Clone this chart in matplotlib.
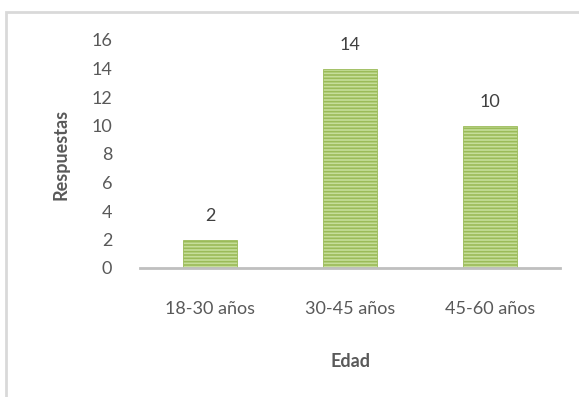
import numpy as np
import matplotlib.pyplot as plt
from matplotlib.patches import Rectangle

categorias = ['18-30 años', '30-45 años', '45-60 años']
respuestas = [2, 14, 10]
y_ticks = [0, 2, 4, 6, 8, 10, 12, 14, 16]

plt.rcParams['font.family'] = ['Lato', 'DejaVu Sans']
plt.rcParams['hatch.linewidth'] = 1.2

fig = plt.figure(figsize=(5.79, 3.97), dpi=100)
fig.patch.set_facecolor('white')
# chart frame (right and bottom edges run off the picture)
fig.add_artist(Rectangle((6 / 579, -0.1), 1.2, (397 - 12) / 397 + 0.1,
                         transform=fig.transFigure, fill=False,
                         edgecolor='#d9d9d9', linewidth=2))

ax = fig.add_axes([140 / 579, 129 / 397, 420 / 579, 228 / 397])
x = np.arange(len(categorias))
bars = ax.bar(x, respuestas, width=0.39, color='#c6de9a', edgecolor='#9bbb59',
              hatch='-----', linewidth=0.6)

for xi, v in zip(x, respuestas):
    ax.text(xi, v + 1.1, str(v), ha='center', va='bottom', fontsize=13, color='#404040')

ax.set_xlim(-0.5, 2.5)
ax.set_ylim(0, 16)
ax.set_yticks(y_ticks)
ax.set_xticks(x)
ax.set_xticklabels(categorias)
ax.tick_params(axis='both', length=0, labelsize=13, colors='#595959')
ax.tick_params(axis='x', pad=24)
ax.tick_params(axis='y', pad=20)
for s in ['top', 'right', 'left']:
    ax.spines[s].set_visible(False)
ax.spines['bottom'].set_color('#bfbfbf')
ax.spines['bottom'].set_linewidth(2)

ax.set_ylabel('Respuestas', fontsize=13, fontweight='bold', color='#595959', labelpad=16)
ax.set_xlabel('Edad', fontsize=13, fontweight='bold', color='#595959', labelpad=26)

fig.savefig('out.png', dpi=100)
